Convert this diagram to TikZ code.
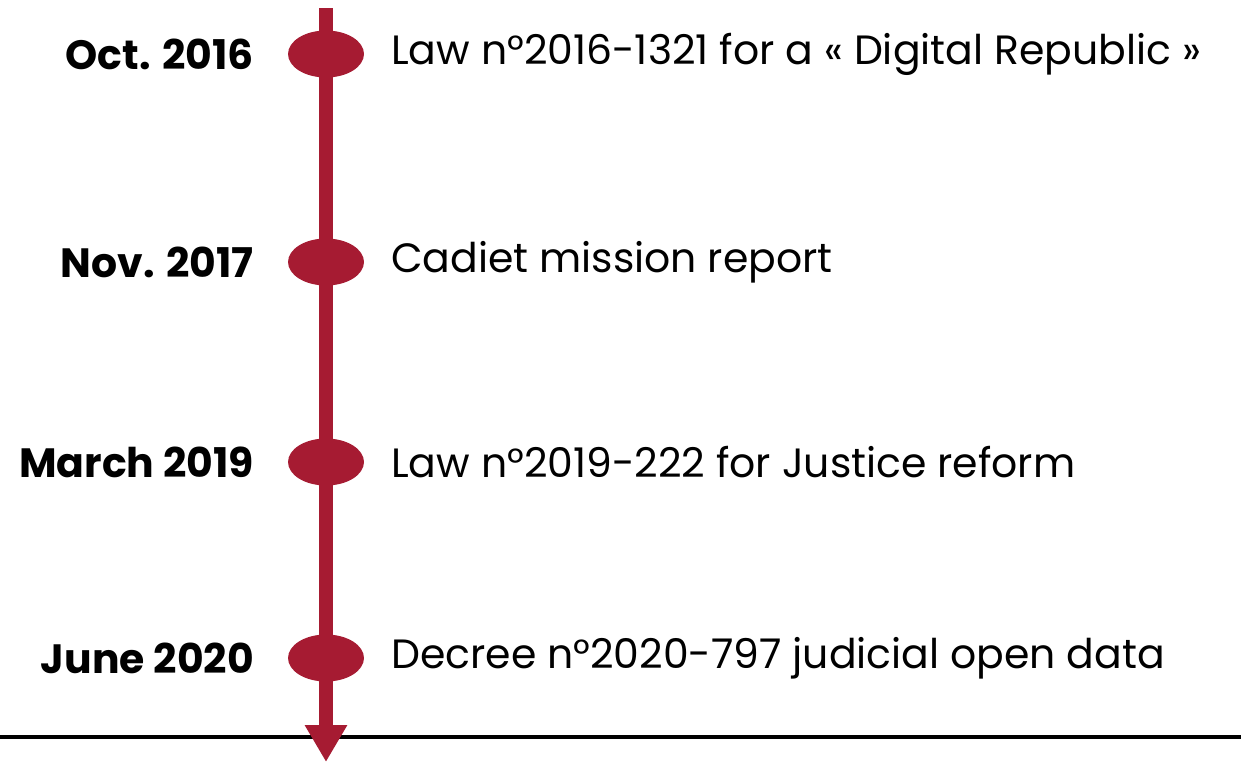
\documentclass[tikz,border=0pt]{standalone}
\usepackage{fontspec}
\setmainfont{Poppins}
\usetikzlibrary{arrows.meta,shapes.geometric}

\definecolor{lawred}{RGB}{166,27,50}

\tikzset{
  event/.style={ellipse,fill=lawred,minimum width=1.52cm,minimum height=0.94cm,inner sep=0pt},
  datelabel/.style={anchor=east,font=\fontsize{23.3}{28}\selectfont\bfseries},
  lawlabel/.style={anchor=west,font=\fontsize{23.3}{28}\selectfont}
}

\begin{document}
\begin{tikzpicture}[x=0.02cm,y=-0.02cm]
      \useasboundingbox (0,0) rectangle (1241,762);

      % baseline under the timeline
      \coordinate (left) at (0,737);
      \coordinate (right) at (1241,737);
      \draw[line width=2.5pt] (left) -- (right);

      % the timeline
      \coordinate (top) at (326,8);
      \coordinate (bottom) at (326,762);
      \draw[lawred,line width=0.28cm,-{Triangle[width=0.8cm,length=0.74cm]}] (top) -- (bottom);

      \node[event] (e16) at (326,54) {};
      \node[event] (e17) at (326,262) {};
      \node[event] (e19) at (326,462) {};
      \node[event] (e20) at (326,658) {};

      \node[datelabel] (d16) at (260,54) {Oct. 2016};
      \node[datelabel] (d17) at (260,262) {Nov. 2017};
      \node[datelabel] (d19) at (260,462) {March 2019};
      \node[datelabel] (d20) at (260,658) {June 2020};

      \node[lawlabel] (l16) at (385,54) {Law n°2016-1321 for a « Digital Republic »};
      \node[lawlabel] (l17) at (385,262) {Cadiet mission report};
      \node[lawlabel] (l19) at (385,462) {Law n°2019-222 for Justice reform};
      \node[lawlabel] (l20) at (385,658) {Decree n°2020-797 judicial open data};
    \end{tikzpicture}
\end{document}
